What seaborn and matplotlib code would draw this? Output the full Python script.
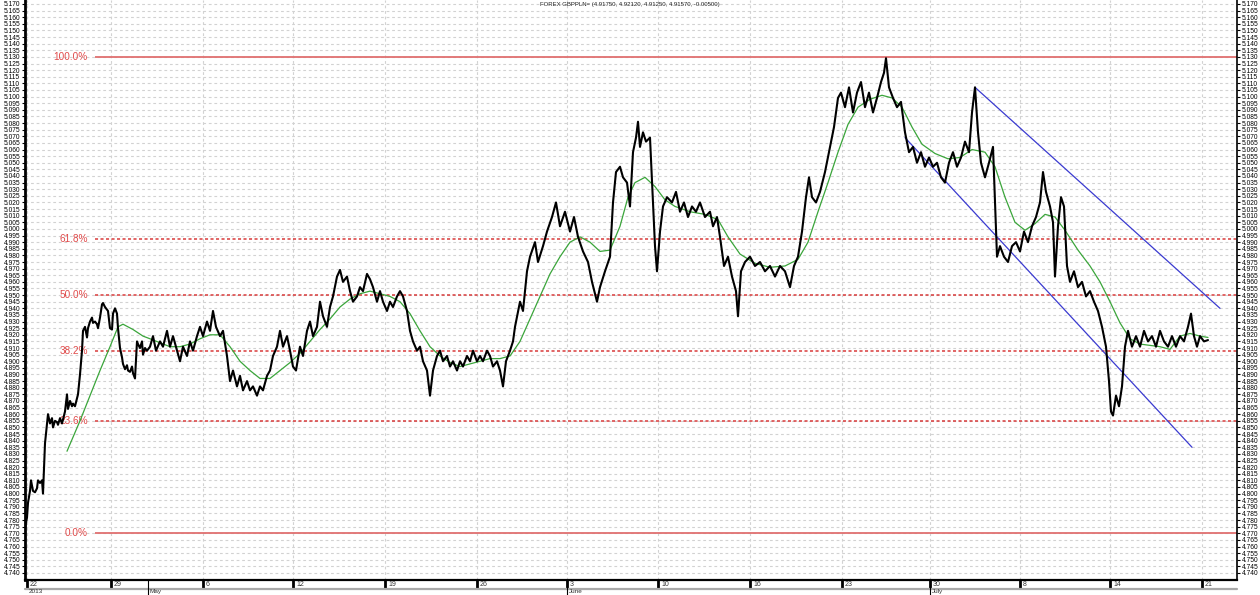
import matplotlib
matplotlib.use("Agg")
import matplotlib.pyplot as plt
import matplotlib.transforms as mtransforms
import numpy as np
import pandas as pd
import seaborn as sns

# ---------------- data ----------------
title_text = "FOREX GBPPLN= (4.91750, 4.92120, 4.91250, 4.91570, -0.00500)"

# bar index (trading time) and price of GBP/PLN
price_bar = [0, 2, 3, 5, 6, 8, 10, 12, 13, 15, 17, 18, 20, 22, 23, 25, 27, 28, 30, 32, 33, 35, 37, 38, 40,
             42, 43, 45, 47, 48, 50, 52, 53, 55, 57, 58, 60, 62, 63, 65, 67, 68, 70, 72, 73, 75, 77, 78, 80,
             82, 83, 85, 87, 88, 90, 92, 93, 95, 97, 98, 100, 102, 103, 105, 107, 108, 110, 112, 113, 115,
             117, 118, 120, 122,
             125, 128, 131, 135, 138, 142, 145, 148, 152, 155, 158, 162, 165, 168, 172, 175, 178, 182, 185,
             188, 191, 195, 198, 202, 205, 208, 212, 215, 218, 222, 225, 228, 232, 235, 238, 242, 245, 248,
             252, 255, 258, 262, 265, 268, 271, 275, 278, 282, 285, 288, 292, 295, 298, 302, 305, 308, 312,
             315, 318, 322, 325, 328, 332, 335, 338, 342, 345, 348, 352, 355, 358, 362, 365, 368, 372, 375,
             378, 382, 385, 388, 392, 395, 398, 402, 405, 408, 412, 415, 418, 422, 425, 428, 432, 435, 438,
             442, 445, 448, 452, 455, 458, 462, 465, 468, 472, 475, 478, 481, 485, 488, 490, 495, 498, 502,
             505, 510, 513, 518, 522, 527, 531, 535, 540, 545, 549, 553, 558, 563, 567, 572, 575, 580, 585,
             588, 591, 595, 598, 602, 605, 608, 611, 613, 615, 618, 621, 625, 628, 630, 632, 635, 638, 642,
             647, 651, 655, 659, 663, 667, 671, 675, 680, 685, 688, 692, 695, 699, 703, 707, 711, 713, 716,
             720, 725, 730, 735, 740, 745, 750, 755, 760, 765, 769, 773, 777, 781, 784, 787, 791, 795, 800,
             805, 809, 813, 816, 820, 824, 828, 832, 836, 840, 844, 848, 852, 856, 859, 861, 864, 868, 872,
             876, 880, 884, 888, 892, 896, 900, 904, 908, 912, 916, 920, 924, 928, 932, 936, 940, 944, 947,
             950, 953, 956, 960, 964, 968, 970, 972, 975, 979, 983, 987, 991, 995, 999, 1003, 1007, 1011,
             1015, 1018, 1021, 1025, 1028, 1030, 1033, 1036, 1039, 1042, 1045, 1049, 1053, 1057, 1061,
             1065, 1069, 1073, 1077, 1081, 1084, 1086, 1088, 1091, 1094, 1097, 1100, 1103, 1107, 1111,
             1115, 1119, 1123, 1127, 1131, 1135, 1139, 1143, 1147, 1151, 1155, 1159, 1163, 1166, 1169,
             1172, 1175, 1179, 1183]
price_val = [4.774, 4.782, 4.793, 4.802, 4.810, 4.802, 4.801, 4.804, 4.810, 4.808, 4.810, 4.800, 4.838,
             4.853, 4.860, 4.853, 4.857, 4.850, 4.855, 4.854, 4.852, 4.857, 4.853, 4.856, 4.862, 4.875,
             4.864, 4.870, 4.866, 4.868, 4.866, 4.872, 4.875, 4.890, 4.908, 4.923, 4.926, 4.918, 4.925,
             4.930, 4.933, 4.929, 4.930, 4.928, 4.925, 4.933, 4.943, 4.944, 4.941, 4.939, 4.938, 4.925,
             4.924, 4.936, 4.940, 4.936, 4.925, 4.910, 4.903, 4.898, 4.894, 4.897, 4.893, 4.892, 4.896,
             4.891, 4.887, 4.915, 4.913, 4.910, 4.915, 4.905, 4.910, 4.908,
             4.911, 4.919, 4.908, 4.915, 4.911, 4.923, 4.911, 4.919, 4.908, 4.900, 4.911, 4.904, 4.915,
             4.908, 4.919, 4.926, 4.919, 4.930, 4.923, 4.938, 4.926, 4.919, 4.923, 4.904, 4.885, 4.893,
             4.881, 4.889, 4.878, 4.885, 4.878, 4.881, 4.874, 4.881, 4.878, 4.889, 4.893, 4.904, 4.911,
             4.923, 4.911, 4.919, 4.908, 4.896, 4.893, 4.911, 4.904, 4.923, 4.930, 4.919, 4.926, 4.945,
             4.934, 4.926, 4.941, 4.949, 4.964, 4.969, 4.960, 4.964, 4.953, 4.945, 4.949, 4.956, 4.953,
             4.966, 4.962, 4.956, 4.945, 4.953, 4.945, 4.938, 4.945, 4.941, 4.949, 4.953, 4.949, 4.938,
             4.923, 4.915, 4.908, 4.911, 4.900, 4.893, 4.874, 4.893, 4.904, 4.908, 4.900, 4.904, 4.896,
             4.900, 4.893, 4.900, 4.896, 4.904, 4.900, 4.908, 4.900, 4.904, 4.900, 4.908, 4.904, 4.896,
             4.900, 4.893, 4.881, 4.900, 4.908, 4.915, 4.926, 4.945, 4.938, 4.968, 4.979, 4.990, 4.975,
             4.987, 4.998, 5.009, 5.020, 5.002, 5.013, 4.998, 5.009, 4.994, 4.983, 4.975, 4.960, 4.945,
             4.956, 4.968, 4.979, 5.020, 5.043, 5.047, 5.039, 5.035, 5.017, 5.058, 5.069, 5.081, 5.062,
             5.073, 5.066, 5.069, 5.020, 4.987, 4.968, 4.998, 5.017, 5.024, 5.020, 5.028, 5.013, 5.020,
             5.009, 5.017, 5.013, 5.020, 5.009, 5.013, 5.002, 5.009, 4.994, 4.972, 4.979, 4.964, 4.953,
             4.934, 4.968, 4.975, 4.979, 4.972, 4.975, 4.968, 4.972, 4.964, 4.972, 4.968, 4.956, 4.972,
             4.979, 4.998, 5.024, 5.039, 5.024, 5.020, 5.028, 5.043, 5.062, 5.077, 5.099, 5.103, 5.092,
             5.107, 5.088, 5.103, 5.111, 5.092, 5.103, 5.088, 5.099, 5.111, 5.118, 5.129, 5.107, 5.099,
             5.092, 5.096, 5.073, 5.058, 5.062, 5.050, 5.058, 5.047, 5.054, 5.047, 5.050, 5.039, 5.035,
             5.050, 5.058, 5.047, 5.054, 5.066, 5.058, 5.088, 5.107, 5.073, 5.050, 5.039, 5.050, 5.062,
             5.020, 4.979, 4.987, 4.979, 4.975, 4.987, 4.990, 4.983, 4.998, 4.990, 5.002, 5.009, 5.020,
             5.043, 5.028, 5.017, 5.005, 4.964, 5.002, 5.024, 5.017, 4.972, 4.960, 4.968, 4.956, 4.960,
             4.949, 4.953, 4.945, 4.938, 4.926, 4.911, 4.885, 4.862, 4.859, 4.874, 4.866, 4.881, 4.911,
             4.923, 4.911, 4.919, 4.911, 4.923, 4.915, 4.919, 4.911, 4.923, 4.915, 4.911, 4.919, 4.911,
             4.919, 4.915, 4.926, 4.936, 4.919, 4.911, 4.919, 4.915, 4.916]

# moving average (green)
ma_bar = [42, 55, 65, 75, 85, 93, 98, 108, 118, 125, 135, 145, 155, 165, 175, 185, 195, 205, 215, 225,
          235, 245, 255, 265, 275, 285, 295, 305, 315, 325, 335, 345, 355, 365, 375, 385, 395, 405, 415,
          425, 435, 445, 455, 465, 475, 485, 495, 505, 515, 525, 535, 545, 555, 565, 575, 585, 595, 603,
          610, 620, 630, 640, 650, 665, 680, 693, 703, 715, 730, 745, 760, 773, 783, 793, 803, 813, 823,
          833, 845, 857, 867, 877, 887, 897, 910, 923, 935, 947, 960, 970, 980, 990, 1000, 1010, 1020,
          1030, 1040, 1053, 1065, 1075, 1085, 1095, 1105, 1115, 1125, 1135, 1145, 1155, 1165, 1175, 1183]
ma_val = [4.832, 4.855, 4.874, 4.893, 4.911, 4.926, 4.928, 4.924, 4.919, 4.917, 4.914, 4.911, 4.911,
          4.913, 4.917, 4.920, 4.920, 4.911, 4.900, 4.893, 4.887, 4.887, 4.893, 4.899, 4.906, 4.915,
          4.924, 4.932, 4.941, 4.947, 4.951, 4.953, 4.951, 4.949, 4.945, 4.936, 4.923, 4.911, 4.904,
          4.899, 4.896, 4.898, 4.900, 4.902, 4.902, 4.904, 4.915, 4.932, 4.949, 4.966, 4.979, 4.990,
          4.994, 4.990, 4.983, 4.984, 5.002, 5.024, 5.035, 5.039, 5.032, 5.022, 5.017, 5.013, 5.011,
          5.007, 4.994, 4.981, 4.974, 4.971, 4.972, 4.977, 4.990, 5.013, 5.035, 5.058, 5.079, 5.092,
          5.098, 5.101, 5.099, 5.092, 5.077, 5.064, 5.057, 5.053, 5.054, 5.060, 5.058, 5.047, 5.024,
          5.005, 4.999, 5.004, 5.011, 5.009, 4.999, 4.984, 4.972, 4.960, 4.945, 4.929, 4.917, 4.913,
          4.912, 4.911, 4.909, 4.919, 4.921, 4.919, 4.918]

# descending channel (blue)
upper_bar = [950, 1195]
upper_val = [5.107, 4.940]
lower_bar = [880, 1167]
lower_val = [5.069, 4.835]

# Fibonacci retracement
fib_low = 4.770
fib_high = 5.130
fib_pct = [100.0, 61.8, 50.0, 38.2, 23.6, 0.0]

# time axis
week_pos = [2, 86, 178, 268, 360, 452, 542, 633, 725, 817, 905, 995, 1085, 1177]
week_labels = ["22", "29", "6", "12", "19", "26", "3", "10", "16", "23", "30", "8", "14", "21"]
month_pos = [2, 123, 542, 905]
month_labels = ["2013", "May", "June", "July"]

# ---------------- plot ----------------
sns.set_theme(style="white")
plt.rcParams['font.family'] = ['Liberation Sans', 'DejaVu Sans']

W, H = 1260, 595
fig = plt.figure(figsize=(W / 100, H / 100), dpi=100)
ax = fig.add_axes([25 / W, 15 / H, 1212 / W, 580 / H])
ax.set_facecolor("white")

ax.set_xlim(0, 1212)
ax.set_ylim(4.7347, 5.173)

# grid
yt = np.round(np.arange(4.740, 5.1701, 0.005), 3)
ax.set_yticks(yt)
ax.set_yticklabels([f"{v:.3f}" for v in yt])
ax.set_xticks(week_pos)
ax.set_xticklabels([])
ax.grid(True, axis="y", linestyle=(0, (2.5, 2.5)), color="#d2d2d2", linewidth=0.8)
ax.grid(True, axis="x", linestyle=(0, (2.5, 2.5)), color="#d2d2d2", linewidth=0.8)
ax.set_axisbelow(True)

# Fibonacci levels
for pct in fib_pct:
    lvl = fib_low + (fib_high - fib_low) * pct / 100.0
    if pct in (0.0, 100.0):
        ax.hlines(lvl, 70, 1212, color="#e07070", linewidth=1.3, zorder=2)
    else:
        ax.hlines(lvl, 70, 1212, color="#d83a3a", linewidth=1.1,
                  linestyles=(0, (2, 1.6)), zorder=2)
    ax.text(63, lvl, f"{pct:.1f}%", color="#e04a4a", fontsize=7.2,
            ha="right", va="center", zorder=2)

# moving average, price, channel
df_ma = pd.DataFrame({"bar": ma_bar, "val": ma_val})
sns.lineplot(data=df_ma, x="bar", y="val", ax=ax, color="#3aa53a", linewidth=0.9,
             estimator=None, sort=False, zorder=3)
df_px = pd.DataFrame({"bar": price_bar, "val": price_val})
sns.lineplot(data=df_px, x="bar", y="val", ax=ax, color="black", linewidth=1.5,
             estimator=None, sort=False, zorder=4)
for bx, vy in ((upper_bar, upper_val), (lower_bar, lower_val)):
    sns.lineplot(x=bx, y=vy, ax=ax, color="#3a3ad0", linewidth=0.9,
                 estimator=None, sort=False, zorder=3)

ax.set_xlabel("")
ax.set_ylabel("")

# title
ax.text(0.499, 0.997, title_text, transform=ax.transAxes, ha="center", va="top",
        fontsize=4.3, color="#222222")

# spines & ticks
for s in ("left", "right", "bottom"):
    ax.spines[s].set_visible(True)
    ax.spines[s].set_color("black")
ax.spines["top"].set_visible(False)
ax.spines["left"].set_linewidth(2.0)
ax.spines["right"].set_linewidth(1.2)
ax.spines["bottom"].set_linewidth(1.6)

ax.tick_params(axis="y", which="both", left=True, right=True, labelleft=True, labelright=True,
               direction="out", length=2.5, width=0.8, labelsize=4.8, pad=1.0, colors="black")
ax.tick_params(axis="x", which="both", bottom=True, top=False, direction="out",
               length=6.0, width=2.0, colors="black")

# week labels next to the ticks, month/year row below
trans = mtransforms.blended_transform_factory(ax.transData, ax.transAxes)
for p, lab in zip(week_pos, week_labels):
    ax.text(p + 3, -1.2 / 580, lab, transform=trans, ha="left", va="top",
            fontsize=5, color="#333333", clip_on=False)
ax.plot([0, 1], [-8.5 / 580, -8.5 / 580], transform=ax.transAxes, color="#a8a8a8",
        linewidth=1.6, clip_on=False)
for p, lab in zip(month_pos, month_labels):
    ax.text(p + 2, -9.3 / 580, lab, transform=trans, ha="left", va="top",
            fontsize=4.6, color="#333333", clip_on=False)
    if p > 10:
        ax.plot([p, p], [0, -15 / 580], transform=trans, color="black",
                linewidth=0.8, clip_on=False)

fig.savefig("out.png", dpi=100, facecolor="white")
